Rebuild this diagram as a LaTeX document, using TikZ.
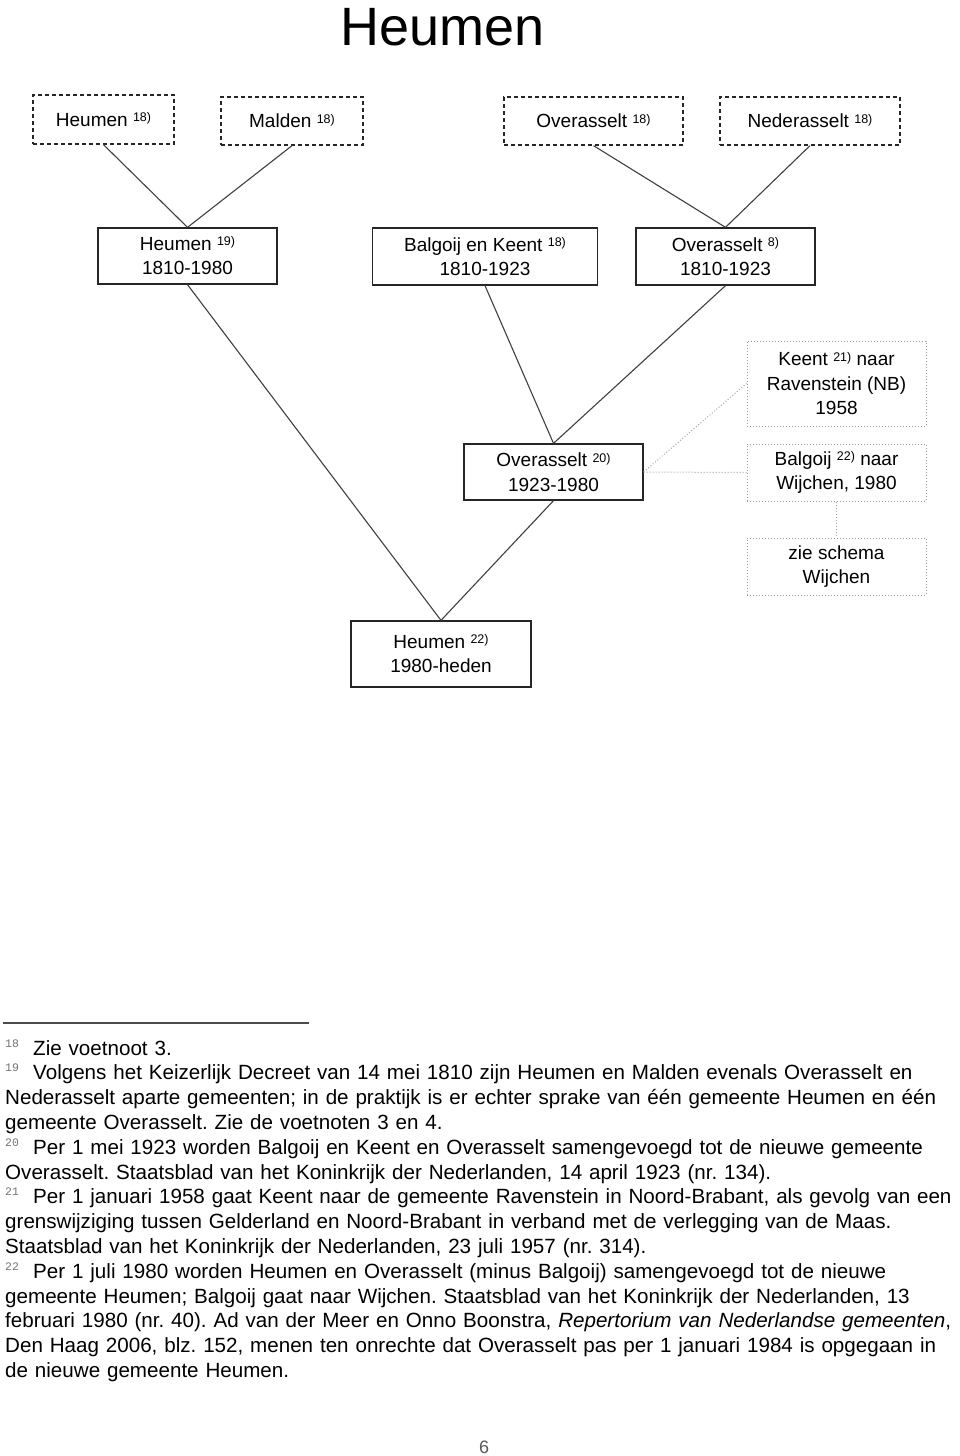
\documentclass[tikz,border=0pt]{standalone}
\usepackage{fontspec}
\setmainfont{Liberation Sans}
\newfontfamily\fnmono{Liberation Mono}
\usepackage{tikz}
\usetikzlibrary{positioning}
\newcommand{\nt}[1]{\raisebox{0.45ex}{\fontsize{12.5}{12.5}\selectfont #1)}}
\newcommand{\fnmark}[1]{\makebox[28pt][l]{\raisebox{8pt}{\fnmono\fontsize{11.5}{11.5}\selectfont\color{black!55}#1}}}
\tikzset{gem/.style={draw=black!85, line width=1.3pt, inner sep=0pt, align=center,
    font=\fontsize{19}{24.5}\selectfont}}
\tikzset{oud/.style={gem, dashed, dash pattern=on 4pt off 3pt}}
\tikzset{uit/.style={gem, draw=black!40, line width=1pt, dotted}}
\tikzset{link/.style={draw=black!75, line width=1.1pt}}
\tikzset{dotlink/.style={draw=black!35, line width=1pt, dotted}}
\tikzset{voet/.style={anchor=base west, inner sep=0pt, text width=1000pt, align=left,
    font=\fontsize{20.6}{24.8}\selectfont\frenchspacing}}
\begin{document}
\begin{tikzpicture}
\begin{scope}[x=1pt,y=-1pt]
    \fill[white] (0,0) rectangle (960,1456);
    \useasboundingbox (0,0) rectangle (960,1456);
    \node[anchor=base, inner sep=0pt, font=\fontsize{54}{54}\selectfont] (titel) at (442.5,45) {Heumen};
    \node[oud, minimum width=141pt, minimum height=49pt] (h18) at (103.5,119.5) {Heumen \nt{18}};
    \node[oud, minimum width=142pt, minimum height=48pt] (m18) at (292,121) {Malden \nt{18}};
    \node[oud, minimum width=179pt, minimum height=48pt] (o18) at (593.5,121) {Overasselt \nt{18}};
    \node[oud, minimum width=180pt, minimum height=48pt] (n18) at (810,121) {Nederasselt \nt{18}};
    \node[gem, minimum width=179pt, minimum height=56pt] (h19) at (187.5,256) {Heumen \nt{19}\\1810-1980};
    \node[gem, minimum width=225pt, minimum height=57pt] (bk18) at (485,256.5) {Balgoij en Keent \nt{18}\\1810-1923};
    \node[gem, minimum width=179pt, minimum height=57pt] (o8) at (725.5,256.5) {Overasselt \nt{8}\\1810-1923};
    \node[gem, minimum width=179pt, minimum height=56pt] (o20) at (553.5,472) {Overasselt \nt{20}\\1923-1980};
    \node[gem, minimum width=180pt, minimum height=66pt] (h22) at (441,654) {Heumen \nt{22}\\1980-heden};
    \node[uit, minimum width=179pt, minimum height=85pt] (keent) at (836.5,383.5) {Keent \nt{21} naar\\Ravenstein (NB)\\1958};
    \node[uit, minimum width=179pt, minimum height=57pt] (balg) at (836.5,472.5) {Balgoij \nt{22} naar\\Wijchen, 1980};
    \node[uit, minimum width=179pt, minimum height=57pt] (zie) at (836.5,566.5) {zie schema\\Wijchen};
    \draw[link] (h18.south) -- (h19.north);
    \draw[link] (m18.south) -- (h19.north);
    \draw[link] (o18.south) -- (o8.north);
    \draw[link] (n18.south) -- (o8.north);
    \draw[link] (h19.south) -- (h22.north);
    \draw[link] (bk18.south) -- (o20.north);
    \draw[link] (o8.south) -- (o20.north);
    \draw[link] (o20.south) -- (h22.north);
    \draw[dotlink] (o20.east) -- (keent.west);
    \draw[dotlink] (o20.east) -- (balg.west);
    \draw[dotlink] (balg.south) -- (zie.north);
    \coordinate (streep1) at (3,1023);
    \coordinate (streep2) at (309,1023);
    \draw[black!70, line width=1.3pt] (streep1) -- (streep2);
    \node[voet] (fn18) at (5,1055) {\fnmark{18}Zie voetnoot 3.};
    \node[voet] (fn19) at (5,1079.8) {\fnmark{19}Volgens het Keizerlijk Decreet van 14 mei 1810 zijn Heumen en Malden evenals Overasselt en\\
        Nederasselt aparte gemeenten; in de praktijk is er echter sprake van één gemeente Heumen en één\\
        gemeente Overasselt. Zie de voetnoten 3 en 4.};
    \node[voet] (fn20) at (5,1154.2) {\fnmark{20}Per 1 mei 1923 worden Balgoij en Keent en Overasselt samengevoegd tot de nieuwe gemeente\\
        Overasselt. Staatsblad van het Koninkrijk der Nederlanden, 14 april 1923 (nr. 134).};
    \node[voet] (fn21) at (5,1203.8) {\fnmark{21}Per 1 januari 1958 gaat Keent naar de gemeente Ravenstein in Noord-Brabant, als gevolg van een\\
        grenswijziging tussen Gelderland en Noord-Brabant in verband met de verlegging van de Maas.\\
        Staatsblad van het Koninkrijk der Nederlanden, 23 juli 1957 (nr. 314).};
    \node[voet] (fn22) at (5,1278.2) {\fnmark{22}Per 1 juli 1980 worden Heumen en Overasselt (minus Balgoij) samengevoegd tot de nieuwe\\
        gemeente Heumen; Balgoij gaat naar Wijchen. Staatsblad van het Koninkrijk der Nederlanden, 13\\
        februari 1980 (nr. 40). Ad van der Meer en Onno Boonstra, \textit{Repertorium van Nederlandse gemeenten},\\
        Den Haag 2006, blz. 152, menen ten onrechte dat Overasselt pas per 1 januari 1984 is opgegaan in\\
        de nieuwe gemeente Heumen.};
    \node[anchor=base, inner sep=0pt, text=black!65, font=\fontsize{18}{18}\selectfont] (blad) at (484,1453) {6};
\end{scope}
\end{tikzpicture}
\end{document}
